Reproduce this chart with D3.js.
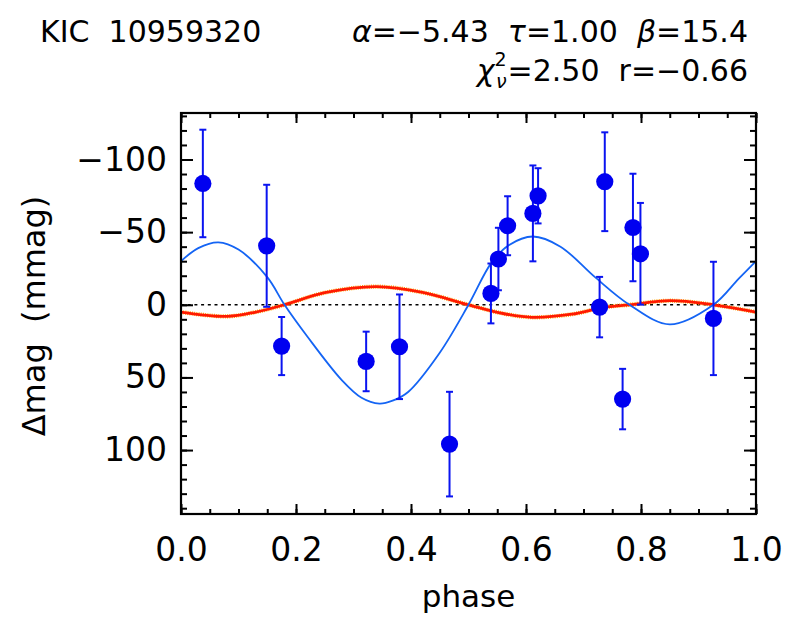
<!DOCTYPE html>
<html>
<head>
<meta charset="utf-8">
<title>KIC 10959320</title>
<script src="https://cdnjs.cloudflare.com/ajax/libs/d3/7.8.5/d3.min.js"></script>
<style>
    body { margin: 0; background: #fff; }
    text { font-family: "DejaVu Sans", sans-serif; fill: #000; white-space: pre; }
</style>
</head>
<body>
<div id="chart"></div>
<script>
// observed points
var phase = [0.038, 0.149, 0.175, 0.322, 0.380, 0.467, 0.539, 0.552, 0.568, 0.612, 0.621, 0.737, 0.728, 0.768, 0.786, 0.799, 0.926];
var dmag  = [-83.5, -40.6, 28.4, 39.0, 28.9, 95.9, -7.8, -31.5, -54.4, -62.9, -75.0, -84.7, 1.6, 64.9, -53.2, -35.1, 9.4];
var err   = [37, 42, 20, 20.5, 36, 36, 20.6, 21.5, 20.3, 33, 19, 34, 20.8, 20.8, 37, 35, 39];

// blue fit curve
var fitPhase = [0.00, 0.03, 0.065, 0.10, 0.15, 0.18, 0.22, 0.28, 0.314, 0.345, 0.368, 0.395, 0.45, 0.50, 0.54, 0.57, 0.612, 0.66, 0.72, 0.78, 0.85, 0.926, 0.97, 1.00];
var fitDmag  = [-30, -39, -43, -38, -19, 0, 22, 52, 64, 68, 66, 60, 33, 0, -29, -41, -47, -40, -19, 0, 13.5, 0, -18, -30];

// red model curve
var modPhase = [0.00, 0.08, 0.13, 0.18, 0.25, 0.34, 0.42, 0.50, 0.56, 0.61, 0.68, 0.735, 0.78, 0.85, 0.926, 1.00];
var modDmag  = [5, 8, 5, 0, -8.3, -12.5, -8.5, 0, 6, 8.6, 6.5, 1.8, 0, -2.8, 0, 5];

var xTicks = [0, 0.2, 0.4, 0.6, 0.8, 1.0];
var yTicks = [-100, -50, 0, 50, 100];

var width = 786, height = 628;
var pLeft = 181, pRight = 756, pTop = 113, pBottom = 514;

var x = d3.scaleLinear().domain([0, 1]).range([pLeft, pRight]);
var y = d3.scaleLinear().domain([-132, 144]).range([pTop, pBottom]);

var svg = d3.select("#chart").append("svg")
    .attr("width", width)
    .attr("height", height);

// zero line
svg.append("line")
    .attr("x1", x(0)).attr("x2", x(1))
    .attr("y1", y(0)).attr("y2", y(0))
    .attr("stroke", "#000").attr("stroke-width", 1.6)
    .attr("stroke-dasharray", "3,3.7");

var line = d3.line().curve(d3.curveCatmullRom.alpha(0.5));

// red model with orange fringe
var modPts = modPhase.map(function(p, i) { return [x(p), y(modDmag[i])]; });
svg.append("path")
    .attr("d", line(modPts))
    .attr("fill", "none").attr("stroke", "#ffa500")
    .attr("stroke-width", 4.2).attr("stroke-dasharray", "1,1.2");
svg.append("path")
    .attr("d", line(modPts))
    .attr("fill", "none").attr("stroke", "#ff1a00")
    .attr("stroke-width", 2.8);

// blue fit
svg.append("path")
    .attr("d", line(fitPhase.map(function(p, i) { return [x(p), y(fitDmag[i])]; })))
    .attr("fill", "none").attr("stroke", "#1464f4")
    .attr("stroke-width", 1.8);

// error bars
var pts = phase.map(function(p, i) { return {p: p, m: dmag[i], e: err[i]}; });
var eb = svg.append("g").attr("stroke", "#0a14f0").attr("stroke-width", 2);
pts.forEach(function(d) {
    eb.append("line").attr("x1", x(d.p)).attr("x2", x(d.p))
        .attr("y1", y(d.m - d.e)).attr("y2", y(d.m + d.e));
    [d.m - d.e, d.m + d.e].forEach(function(v) {
        eb.append("line").attr("x1", x(d.p) - 3.5).attr("x2", x(d.p) + 3.5)
            .attr("y1", y(v)).attr("y2", y(v));
    });
});
svg.append("g").selectAll("circle")
    .data(pts)
    .enter().append("circle")
    .attr("cx", function(d) { return x(d.p); })
    .attr("cy", function(d) { return y(d.m); })
    .attr("r", 8.6)
    .attr("fill", "#0000f0");

// frame + ticks on all four sides
var fmtY = function(d) { return d < 0 ? "\u2212" + Math.abs(d) : "" + d; };
var minorX = d3.range(0, 21).map(function(i) { return i * 0.05; });
var minorY = d3.range(-13, 15).map(function(i) { return i * 10; });
svg.append("g").attr("transform", "translate(0," + pBottom + ")")
    .call(d3.axisBottom(x).tickValues(minorX).tickSize(-5).tickFormat(""));
svg.append("g").attr("transform", "translate(0," + pBottom + ")")
    .call(d3.axisBottom(x).tickValues(xTicks).tickSize(-10).tickPadding(24)
        .tickFormat(d3.format(".1f")));
svg.append("g").attr("transform", "translate(0," + pTop + ")")
    .call(d3.axisTop(x).tickValues(minorX).tickSize(-5).tickFormat(""));
svg.append("g").attr("transform", "translate(0," + pTop + ")")
    .call(d3.axisTop(x).tickValues(xTicks).tickSize(-10).tickFormat(""));
svg.append("g").attr("transform", "translate(" + pLeft + ",0)")
    .call(d3.axisLeft(y).tickValues(minorY).tickSize(-6).tickFormat(""));
svg.append("g").attr("transform", "translate(" + pLeft + ",0)")
    .call(d3.axisLeft(y).tickValues(yTicks).tickSize(-12).tickPadding(14).tickFormat(fmtY));
svg.append("g").attr("transform", "translate(" + pRight + ",0)")
    .call(d3.axisRight(y).tickValues(minorY).tickSize(-6).tickFormat(""));
svg.append("g").attr("transform", "translate(" + pRight + ",0)")
    .call(d3.axisRight(y).tickValues(yTicks).tickSize(-12).tickFormat(""));

svg.selectAll(".domain").remove();
svg.selectAll(".tick line").attr("stroke", "#000").attr("stroke-width", 2);
svg.selectAll(".tick text").attr("font-size", 33).attr("font-family", "DejaVu Sans").attr("fill", "#000");

svg.append("rect")
    .attr("x", pLeft).attr("y", pTop)
    .attr("width", pRight - pLeft).attr("height", pBottom - pTop)
    .attr("fill", "none").attr("stroke", "#000").attr("stroke-width", 2.2);

// axis titles
svg.append("text")
    .attr("x", (pLeft + pRight) / 2).attr("y", 607)
    .attr("text-anchor", "middle").attr("font-size", 31)
    .text("phase");
svg.append("text")
    .attr("transform", "translate(45,316) rotate(-90)")
    .attr("text-anchor", "middle").attr("font-size", 32)
    .text("\u0394mag  (mmag)");

// header
svg.append("text")
    .attr("x", 40).attr("y", 42).attr("font-size", 30)
    .text("KIC  10959320");

var h1 = svg.append("text")
    .attr("x", 748).attr("y", 42).attr("font-size", 30)
    .attr("text-anchor", "end");
h1.append("tspan").attr("font-style", "italic").text("\u03b1");
h1.append("tspan").text("=\u22125.43  ");
h1.append("tspan").attr("font-style", "italic").text("\u03c4");
h1.append("tspan").text("=1.00  ");
h1.append("tspan").attr("font-style", "italic").text("\u03b2");
h1.append("tspan").text("=15.4");

var h2 = svg.append("text")
    .attr("x", 748).attr("y", 81).attr("font-size", 30)
    .attr("text-anchor", "end")
    .text("=2.50  r=\u22120.66");
var x0 = 748 - h2.node().getComputedTextLength();
svg.append("text").attr("x", x0 - 1).attr("y", 66).attr("font-size", 19)
    .attr("text-anchor", "end").text("2");
svg.append("text").attr("x", x0 - 1).attr("y", 88).attr("font-size", 19)
    .attr("font-style", "italic").attr("text-anchor", "end").text("\u03bd");
svg.append("text").attr("x", x0 - 13).attr("y", 81).attr("font-size", 30)
    .attr("font-style", "italic").attr("text-anchor", "end").text("\u03c7");
</script>
</body>
</html>
